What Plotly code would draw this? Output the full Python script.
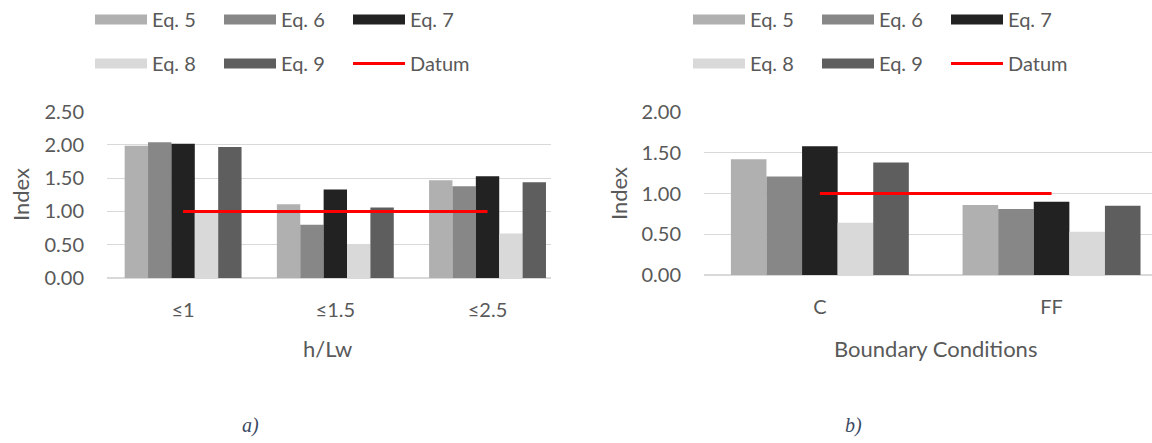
import plotly.graph_objects as go

# ---------------- data ----------------
series_names = ["Eq. 5", "Eq. 6", "Eq. 7", "Eq. 8", "Eq. 9"]
series_colors = ["#b0b0b0", "#878787", "#222222", "#d9d9d9", "#5e5e5e"]

left_categories = ["≤1", "≤1.5", "≤2.5"]
left_eq5 = [1.99, 1.11, 1.47]
left_eq6 = [2.04, 0.80, 1.38]
left_eq7 = [2.02, 1.33, 1.53]
left_eq8 = [1.01, 0.50, 0.67]
left_eq9 = [1.97, 1.06, 1.44]
left_datum = [1.0, 1.0, 1.0]

right_categories = ["C", "FF"]
right_eq5 = [1.42, 0.86]
right_eq6 = [1.21, 0.81]
right_eq7 = [1.58, 0.90]
right_eq8 = [0.64, 0.53]
right_eq9 = [1.38, 0.85]
right_datum = [1.0, 1.0]

left_ticks = [0, 0.5, 1.0, 1.5, 2.0, 2.5]
right_ticks = [0, 0.5, 1.0, 1.5, 2.0]

# ---------------- style ----------------
W, H = 1152, 443
FONT = "Lato"
TXT = "#595959"
GRID = "#d9d9d9"


def px_x(p):
    return p / W


def px_y(p):
    return 1 - p / H


fig = go.Figure()

left_vals = [left_eq5, left_eq6, left_eq7, left_eq8, left_eq9]
right_vals = [right_eq5, right_eq6, right_eq7, right_eq8, right_eq9]

for name, color, vals in zip(series_names, series_colors, left_vals):
    fig.add_trace(go.Bar(x=left_categories, y=vals, name=name, marker_color=color,
                         marker_line_width=0,
                         xaxis="x", yaxis="y", showlegend=False, offsetgroup=name))
fig.add_trace(go.Scatter(x=left_categories, y=left_datum, mode="lines", name="Datum",
                         line=dict(color="#ff0000", width=3), xaxis="x", yaxis="y",
                         showlegend=False))

for name, color, vals in zip(series_names, series_colors, right_vals):
    fig.add_trace(go.Bar(x=right_categories, y=vals, name=name, marker_color=color,
                         marker_line_width=0,
                         xaxis="x2", yaxis="y2", showlegend=False, offsetgroup=name + "r"))
fig.add_trace(go.Scatter(x=right_categories, y=right_datum, mode="lines", name="Datum",
                         line=dict(color="#ff0000", width=3), xaxis="x2", yaxis="y2",
                         showlegend=False))

# legend proxies (wide rectangles like the original)
legend_ids = {0: ("legend", "legend3"), 1: ("legend", "legend3"), 2: ("legend", "legend3"),
              3: ("legend2", "legend4"), 4: ("legend2", "legend4")}
for side in range(2):
    for i, (name, color) in enumerate(zip(series_names, series_colors)):
        fig.add_trace(go.Scatter(x=[None], y=[None], mode="lines", name=name,
                                 line=dict(color=color, width=14),
                                 legend=legend_ids[i][side],
                                 xaxis="x" if side == 0 else "x2",
                                 yaxis="y" if side == 0 else "y2"))
    fig.add_trace(go.Scatter(x=[None], y=[None], mode="lines", name="Datum",
                             line=dict(color="#ff0000", width=3),
                             legend="legend2" if side == 0 else "legend4",
                             xaxis="x" if side == 0 else "x2",
                             yaxis="y" if side == 0 else "y2"))

axis_common = dict(tickfont=dict(family=FONT, size=20, color=TXT), showline=False,
                   automargin=False)

fig.update_layout(
    template="none",
    width=W, height=H, autosize=False,
    margin=dict(l=0, r=0, t=0, b=0, pad=0),
    paper_bgcolor="white", plot_bgcolor="white",
    font=dict(family=FONT, color=TXT),
    barmode="group", bargap=0.232, bargroupgap=0,
    xaxis=dict(domain=[px_x(107), px_x(551)], range=[-0.5, 2.417], type="category",
               showgrid=False, zeroline=False, ticks="", ticklabelstandoff=18,
               anchor="y", **axis_common),
    yaxis=dict(domain=[px_y(278), px_y(111.7)], range=[0, 2.5], tickvals=left_ticks,
               tickformat=".2f", showgrid=True, gridcolor=GRID, gridwidth=1,
               zeroline=True, zerolinecolor=GRID, zerolinewidth=2,
               ticks="", ticklabelstandoff=22, anchor="x", **axis_common),
    xaxis2=dict(domain=[px_x(704), 1.0], range=[-0.5, 1.4335], type="category",
                showgrid=False, zeroline=False, ticks="", ticklabelstandoff=18,
                anchor="y2", **axis_common),
    yaxis2=dict(domain=[px_y(275), px_y(112)], range=[0, 2.0], tickvals=right_ticks,
                tickformat=".2f", showgrid=True, gridcolor=GRID, gridwidth=1,
                zeroline=True, zerolinecolor=GRID, zerolinewidth=2,
                ticks="", ticklabelstandoff=22, anchor="x2", **axis_common),
)

leg_common = dict(orientation="h", xanchor="left", yanchor="top",
                  font=dict(family=FONT, size=20, color=TXT),
                  bgcolor="rgba(0,0,0,0)", itemwidth=52, entrywidth=62,
                  itemclick=False, itemdoubleclick=False, tracegroupgap=0)
fig.update_layout(
    legend=dict(x=px_x(90), y=1.0, **leg_common),
    legend2=dict(x=px_x(90), y=px_y(44), **leg_common),
    legend3=dict(x=px_x(688), y=1.0, **leg_common),
    legend4=dict(x=px_x(688), y=px_y(44), **leg_common),
)

annotations = [
    dict(text="Index", x=px_x(20), y=px_y(195), textangle=-90,
         font=dict(family=FONT, size=22, color=TXT)),
    dict(text="Index", x=px_x(619), y=px_y(194), textangle=-90,
         font=dict(family=FONT, size=22, color=TXT)),
    dict(text="h/Lw", x=px_x(327), y=px_y(348),
         font=dict(family=FONT, size=22, color=TXT)),
    dict(text="Boundary Conditions", x=px_x(935), y=px_y(348),
         font=dict(family=FONT, size=22, color=TXT)),
    dict(text="<i>a)</i>", x=px_x(250), y=px_y(425),
         font=dict(family="Liberation Serif", size=20, color="#3b4a63")),
    dict(text="<i>b)</i>", x=px_x(853), y=px_y(425),
         font=dict(family="Liberation Serif", size=20, color="#3b4a63")),
]
for a in annotations:
    a.update(xref="paper", yref="paper", showarrow=False, xanchor="center", yanchor="middle")
fig.update_layout(annotations=annotations)

fig.write_html("out.html")
